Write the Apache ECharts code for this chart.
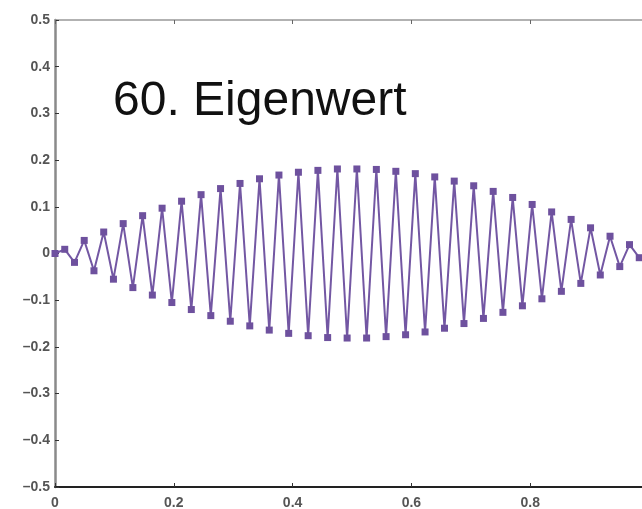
<!DOCTYPE html>
<html>
<head>
<meta charset="utf-8">
<script src="https://cdn.jsdelivr.net/npm/echarts@6/dist/echarts.min.js"></script>
<style>
html,body{margin:0;padding:0;background:#fff;}
#chart{width:642px;height:509px;}
</style>
</head>
<body>
<div id="chart"></div>
<script>
// x positions of the grid points
var xValues = [0, 0.0164, 0.0328, 0.0492, 0.0656, 0.0820, 0.0984, 0.1148, 0.1311, 0.1475, 0.1639, 0.1803, 0.1967, 0.2131, 0.2295, 0.2459, 0.2623, 0.2787, 0.2951, 0.3115, 0.3279, 0.3443, 0.3607, 0.3770, 0.3934, 0.4098, 0.4262, 0.4426, 0.4590, 0.4754, 0.4918, 0.5082, 0.5246, 0.5410, 0.5574, 0.5738, 0.5902, 0.6066, 0.6230, 0.6393, 0.6557, 0.6721, 0.6885, 0.7049, 0.7213, 0.7377, 0.7541, 0.7705, 0.7869, 0.8033, 0.8197, 0.8361, 0.8525, 0.8689, 0.8852, 0.9016, 0.9180, 0.9344, 0.9508, 0.9672, 0.9836, 1.0];
// eigenvector components
var yValues = [0, 0.009, -0.019, 0.028, -0.037, 0.046, -0.055, 0.064, -0.073, 0.081, -0.089, 0.097, -0.105, 0.112, -0.120, 0.126, -0.133, 0.139, -0.145, 0.150, -0.155, 0.160, -0.164, 0.168, -0.171, 0.174, -0.176, 0.178, -0.180, 0.181, -0.181, 0.181, -0.181, 0.180, -0.178, 0.176, -0.174, 0.171, -0.168, 0.164, -0.160, 0.155, -0.150, 0.145, -0.139, 0.133, -0.126, 0.120, -0.112, 0.105, -0.097, 0.089, -0.081, 0.073, -0.064, 0.055, -0.046, 0.037, -0.028, 0.019, -0.009, 0];
var titleText = '60. Eigenwert';

var pts = xValues.map(function (x, i) { return [x, yValues[i]]; });
function fmt(v) {
  if (Math.abs(v) < 1e-9) return '0';
  var r = Math.round(v * 10) / 10;
  var s = (Math.abs(r - Math.round(r)) < 1e-9) ? String(Math.round(r)) : r.toFixed(1);
  return s.replace('-', '\u2013');
}
var chart = echarts.init(document.getElementById('chart'), null, {renderer: 'canvas'});
chart.setOption({
  animation: false,
  backgroundColor: '#ffffff',
  grid: {left: 55, top: 20, width: 594, height: 467, containLabel: false, outerBoundsMode: 'none'},
  xAxis: [{
    type: 'value', min: 0, max: 1, interval: 0.2, position: 'bottom',
    axisLine: {show: true, onZero: false, lineStyle: {color: '#222', width: 2}},
    axisTick: {show: true, inside: true, length: 4, lineStyle: {color: '#333', width: 1}},
    axisLabel: {formatter: fmt, color: '#555', fontSize: 14, fontWeight: 'bold', fontFamily: 'Liberation Sans, Arial, sans-serif', margin: 9},
    splitLine: {show: false}
  }, {
    type: 'value', min: 0, max: 1, interval: 0.2, position: 'top',
    axisLine: {show: true, onZero: false, lineStyle: {color: '#999', width: 1.5}},
    axisTick: {show: true, inside: true, length: 4, lineStyle: {color: '#666', width: 1}},
    axisLabel: {show: false},
    splitLine: {show: false}
  }],
  yAxis: {
    type: 'value', min: -0.5, max: 0.5, interval: 0.1,
    axisLine: {show: true, onZero: false, lineStyle: {color: '#8a8a8a', width: 2.5}},
    axisTick: {show: true, inside: true, length: 4, lineStyle: {color: '#333', width: 1}},
    axisLabel: {formatter: fmt, color: '#555', fontSize: 14, fontWeight: 'bold', fontFamily: 'Liberation Sans, Arial, sans-serif', margin: 5},
    splitLine: {show: false}
  },
  series: [{
    type: 'line',
    data: pts,
    symbol: 'rect',
    symbolSize: 7,
    clip: true,
    lineStyle: {color: '#7357a3', width: 2},
    itemStyle: {color: '#6e519e', borderWidth: 0}
  }],
  graphic: [{
    type: 'text',
    left: 113, top: 78,
    style: {text: titleText, fill: '#111', font: '48px "Liberation Sans", Arial, sans-serif'}
  }]
});
</script>
</body>
</html>
